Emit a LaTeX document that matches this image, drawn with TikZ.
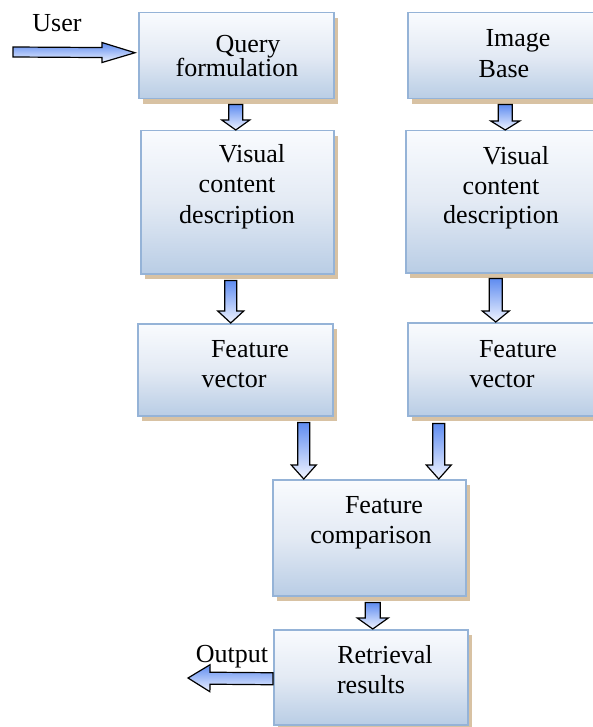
\documentclass[tikz,border=0pt]{standalone}
\usepackage{fontspec}
\setmainfont{Liberation Serif}
\usetikzlibrary{calc,shadows}
\definecolor{boxline}{HTML}{95B3D7}
\definecolor{boxtop}{HTML}{F9FBFE}
\definecolor{boxmid}{HTML}{E3EAF4}
\definecolor{boxbot}{HTML}{B9CDE5}
\definecolor{shadowtan}{HTML}{D8C2A3}
\definecolor{arrtop}{HTML}{5F8CF0}
\definecolor{arrbot}{HTML}{F0F4FF}
\newcommand\blockarrow[5]{%
  \coordinate (hb) at ($(#2)!#5!(#1)$);
  \path[blockarr] ($(#1)!#3!90:(#2)$) -- ($(hb)!#3!90:(#2)$) -- ($(hb)!#4!90:(#2)$) -- (#2)
    -- ($(hb)!#4!-90:(#2)$) -- ($(hb)!#3!-90:(#2)$) -- ($(#1)!#3!-90:(#2)$) -- cycle;
}
\begin{document}
\begin{tikzpicture}[x=1pt,y=-1pt,
  box/.style={draw=boxline, line width=1.5pt, top color=boxtop, bottom color=boxbot, middle color=boxmid,
    drop shadow={fill=shadowtan, opacity=1, shadow xshift=4pt, shadow yshift=-5pt},
    anchor=north west, inner sep=0pt},
  lbl/.style={font=\fontsize{26pt}{30pt}\selectfont, inner sep=0pt, anchor=base},
  blockarr/.style={draw=black, line width=1.2pt, line join=miter, top color=arrtop, bottom color=arrbot}]
\clip (0,0) rectangle (593,727);
% boxes
\node[box, minimum width=195pt, minimum height=86pt] (q) at (138,12) {};
\node[box, minimum width=193pt, minimum height=86pt] (ib) at (407,12) {};
\node[box, minimum width=193pt, minimum height=143pt] (vl) at (140,130) {};
\node[box, minimum width=195pt, minimum height=142pt] (vr) at (405,130) {};
\node[box, minimum width=195pt, minimum height=92pt] (fl) at (137,323) {};
\node[box, minimum width=193pt, minimum height=93pt] (fr) at (407,322) {};
\node[box, minimum width=193pt, minimum height=116pt] (fc) at (272,479) {};
\node[box, minimum width=194pt, minimum height=95pt] (rr) at (273,629) {};
% texts
\node[lbl] (q1) at (248,53) {Query};
\node[lbl] (q2) at (237,77) {formulation};
\node[lbl] (ib1) at (518,47) {Image};
\node[lbl] (ib2) at (504,78) {Base};
\node[lbl] (vl1) at (252,163) {Visual};
\node[lbl] (vl2) at (237,193) {content};
\node[lbl] (vl3) at (237,223) {description};
\node[lbl] (vr1) at (516,165) {Visual};
\node[lbl] (vr2) at (501,195) {content};
\node[lbl] (vr3) at (501,223) {description};
\node[lbl] (fl1) at (250,357) {Feature};
\node[lbl] (fl2) at (234,387) {vector};
\node[lbl] (fr1) at (518,357) {Feature};
\node[lbl] (fr2) at (502,387) {vector};
\node[lbl] (fc1) at (384,513) {Feature};
\node[lbl] (fc2) at (371,543) {comparison};
\node[lbl] (rr1) at (385,663) {Retrieval};
\node[lbl] (rr2) at (371,693) {results};
\node[lbl] (user) at (57,32) {User};
\node[lbl] (out) at (232,662) {Output};
% arrow end points
\coordinate (a1s) at ([xshift=-0.5pt,yshift=-5pt]q.south);
\coordinate (a1e) at ([xshift=-1.5pt]vl.north);
\coordinate (a2s) at ([xshift=1pt,yshift=-5pt]ib.south);
\coordinate (a2e) at ([xshift=2pt]vr.north);
\coordinate (a3s) at ([xshift=-6.5pt,yshift=-6pt]vl.south);
\coordinate (a3e) at ([xshift=-4.5pt]fl.north);
\coordinate (a4s) at ([xshift=-7.5pt,yshift=-5pt]vr.south);
\coordinate (a4e) at ([xshift=-8.5pt]fr.north);
\coordinate (a5s) at ([xshift=68.5pt,yshift=-6pt]fl.south);
\coordinate (a5e) at ([xshift=-65.5pt]fc.north);
\coordinate (a6s) at ([xshift=-65.5pt,yshift=-7pt]fr.south);
\coordinate (a6e) at ([xshift=69.5pt]fc.north);
\coordinate (a7s) at ([xshift=3.5pt,yshift=-6pt]fc.south);
\coordinate (a7e) at ([xshift=2pt]rr.north);
\coordinate (ustart) at (13,52);
\coordinate (ue) at ([xshift=-3pt,yshift=3pt]q.west);
\coordinate (os) at ([yshift=-1.5pt]rr.west);
\coordinate (oend) at (188,678);
% block arrows
\blockarrow{a1s}{a1e}{7pt}{14pt}{10pt}
\blockarrow{a2s}{a2e}{7pt}{14.5pt}{9pt}
\blockarrow{a3s}{a3e}{6pt}{13pt}{12pt}
\blockarrow{a4s}{a4e}{6.5pt}{13.5pt}{11pt}
\blockarrow{a5s}{a5e}{6pt}{12.5pt}{14pt}
\blockarrow{a6s}{a6e}{6pt}{12.5pt}{14pt}
\blockarrow{a7s}{a7e}{7.5pt}{15.5pt}{11pt}
\blockarrow{ustart}{ue}{5pt}{10pt}{33pt}
\blockarrow{os}{oend}{6pt}{13.5pt}{22pt}
\end{tikzpicture}
\end{document}
